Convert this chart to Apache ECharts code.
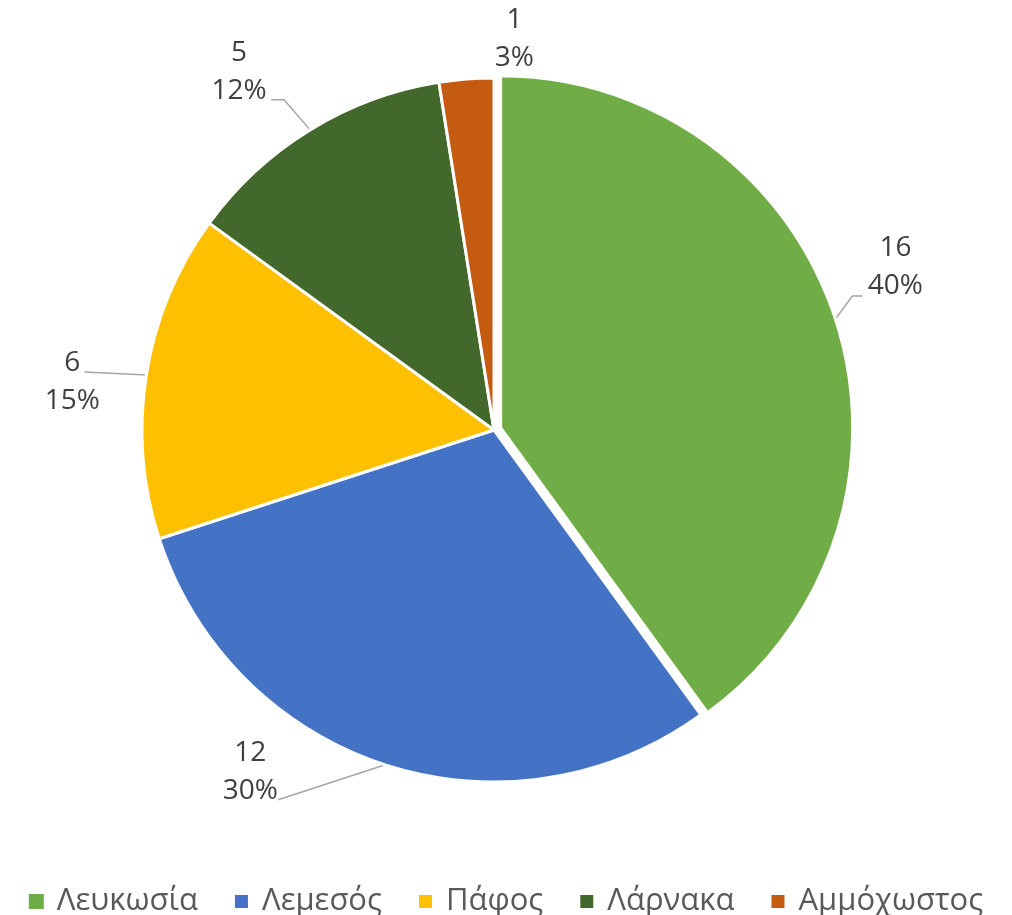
<!DOCTYPE html>
<html>
<head>
<meta charset="utf-8">
<script src="https://cdn.jsdelivr.net/npm/echarts@6/dist/echarts.min.js"></script>
<style>
html,body{margin:0;padding:0;background:#fff;}
#chart{width:1012px;height:915px;}
</style>
</head>
<body>
<div id="chart"></div>
<script>
// ---- data ----
const categories = ['Λευκωσία', 'Λεμεσός', 'Πάφος', 'Λάρνακα', 'Αμμόχωστος'];
const values = [16, 12, 6, 5, 1];
const pctLabels = ['40%', '30%', '15%', '12%', '3%'];
const colors = ['#70AD47', '#4472C4', '#FFC000', '#43682B', '#C55A11'];
const explodedIndex = 0;

// ---- label leader-line styling (offsets relative to library-computed edge points) ----
const lineBend = [[17, -23], [-107, 35], [-62, -3], [-26, -30], [0, 0]];
const lineTail = [10, 0, 0, -13, 0];
const labelShift = [[33, -29], [-28, -28], [-12, 10], [-32, -28], [48, -40]];

// ---- layout ----
const CX = 494, CY = 430, R = 352, EXPLODE = 7;

const total = values.reduce((a, b) => a + b, 0);
let before = 0;
for (let i = 0; i < explodedIndex; i++) before += values[i];
const midDeg = (before + values[explodedIndex] / 2) / total * 360;
const midRad = midDeg * Math.PI / 180;
const explodedCenter = [CX + EXPLODE * Math.sin(midRad), CY - EXPLODE * Math.cos(midRad)];

const chart = echarts.init(document.getElementById('chart'), null, {renderer: 'canvas'});

const hidden = {
  itemStyle: {color: 'rgba(0,0,0,0)', borderWidth: 0},
  label: {show: false},
  labelLine: {show: false}
};

function makeData(showExploded) {
  return categories.map((name, i) => {
    const isExp = i === explodedIndex;
    if (isExp !== showExploded) {
      return Object.assign({name: name, value: values[i]}, JSON.parse(JSON.stringify(hidden)));
    }
    return {name: name, value: values[i], itemStyle: {color: colors[i]}};
  });
}

function labelLayout(params) {
  const i = params.dataIndex;
  const pts = params.labelLinePoints;
  if (!pts) return {};
  const s = pts[0];
  const m = [s[0] + lineBend[i][0], s[1] + lineBend[i][1]];
  const e = [m[0] + lineTail[i], m[1]];
  return {
    x: e[0] + labelShift[i][0],
    y: e[1] + labelShift[i][1],
    align: 'center',
    verticalAlign: 'middle',
    labelLinePoints: [s, m, e]
  };
}

const baseSeries = {
  type: 'pie',
  radius: R,
  startAngle: 90,
  clockwise: true,
  selectedMode: false,
  avoidLabelOverlap: false,
  itemStyle: {borderColor: '#ffffff', borderWidth: 3},
  emphasis: {disabled: true},
  label: {
    show: true,
    position: 'outside',
    fontFamily: 'Open Sans',
    fontSize: 28,
    lineHeight: 38,
    color: '#404040',
    formatter: function (p) {
      return p.value + '\n' + pctLabels[p.dataIndex];
    }
  },
  labelLine: {
    show: true,
    length: 10,
    length2: 10,
    lineStyle: {color: '#A6A6A6', width: 1.5}
  },
  labelLayout: labelLayout
};

chart.setOption({
  animation: false,
  backgroundColor: '#ffffff',
  legend: {
    data: categories.map((name, i) => ({name: name, itemStyle: {color: colors[i], opacity: 1}})),
    left: 'center',
    top: 881,
    icon: 'rect',
    itemWidth: 15,
    itemHeight: 15,
    itemGap: 35,
    selectedMode: false,
    textStyle: {
      fontFamily: 'Open Sans',
      fontSize: 31,
      color: '#595959',
      padding: [0, 0, 0, 8]
    }
  },
  series: [
    Object.assign({}, baseSeries, {center: [CX, CY], data: makeData(false)}),
    Object.assign({}, baseSeries, {center: explodedCenter, data: makeData(true)})
  ]
});
</script>
</body>
</html>
